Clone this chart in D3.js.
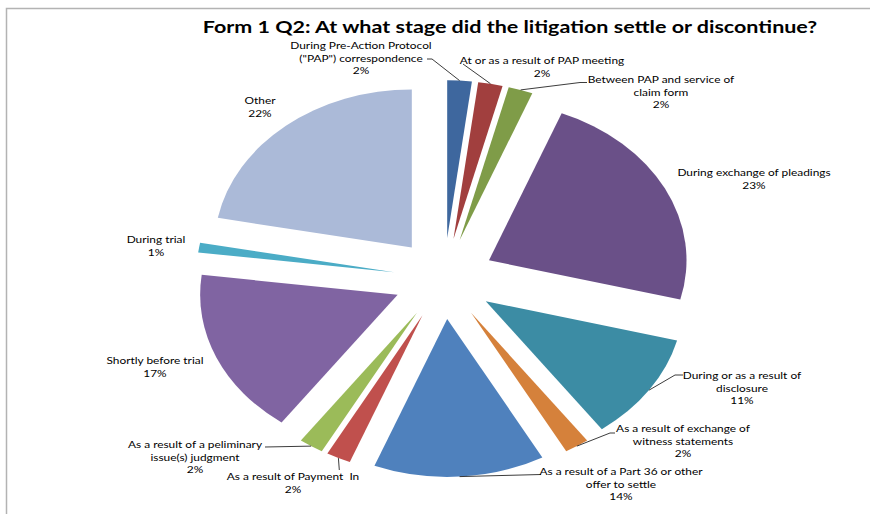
<!DOCTYPE html>
<html>
<head>
<meta charset="utf-8">
<script src="https://cdn.jsdelivr.net/npm/d3@7"></script>
<style>
  body { margin: 0; background: #fff; }
  text { font-family: Lato, "Open Sans", sans-serif; fill: #000; white-space: pre; }
</style>
</head>
<body>
<div id="chart"></div>
<script>
// data (clockwise from 12 o'clock)
var categories = [
  "During Pre-Action Protocol|(\"PAP\") correspondence",
  "At or as a result of PAP meeting",
  "Between PAP and service of|claim form",
  "During exchange of pleadings",
  "During or as a result of|disclosure",
  "As a result of exchange of|witness statements",
  "As a result of a Part 36 or other|offer to settle",
  "As a result of Payment  In",
  "As a result of a peliminary|issue(s) judgment",
  "Shortly before trial",
  "During trial",
  "Other"
];
var values = [2, 2, 2, 23, 11, 2, 14, 2, 2, 17, 1, 22];
var colors = ["#3e679e", "#a13f3e", "#7f9c48", "#6a5088", "#3c8ca4", "#d5813b",
              "#4f81bd", "#c0504d", "#9bbb59", "#8064a2", "#4bacc6", "#abbad8"];
var title = "Form 1 Q2: At what stage did the litigation settle or discontinue?";

// label layout (screen px, before the horizontal stretch is undone)
var labelAt = [[361, 46], [542, 61], [661, 80], [754, 173], [742, 376], [683, 429],
               [621, 472], [293, 477], [195, 445], [155, 361], [156, 240], [260, 101]];
// leader line points after the slice edge point (screen px), null = no leader
var leaders = [
  [[432, 59], [427, 59]],
  [[463, 64]],
  [[580, 82.5], [587, 82.5]],
  null,
  [[675, 375], [683, 375]],
  [[610, 433], [615, 433]],
  [[541, 474.5]],
  [[339.3, 470]],
  [[265, 447]],
  null, null, null
];

var width = 870, height = 514;
var SX = 1.25;                 // the original picture is stretched sideways
var cx = 444 / SX, cy = 278.6, radius = 158, explode = 40.4;
var lineH = 12.4;

var data = values.map(function(v, i) { return {name: categories[i], value: v, i: i}; });

var svg = d3.select("#chart").append("svg")
    .attr("width", width)
    .attr("height", height);

// chart frame
svg.append("path")
    .attr("d", "M6.5," + height + "V8.5H" + width)
    .attr("fill", "none")
    .attr("stroke", "#b3b3b3")
    .attr("stroke-width", 1.5);

var g = svg.append("g").attr("transform", "scale(" + SX + ",1)");

g.append("text")
    .attr("x", 510 / SX)
    .attr("y", 33.5)
    .attr("text-anchor", "middle")
    .style("font-size", "17.2px")
    .style("font-weight", "bold")
    .text(title);

var pie = d3.pie().sort(null).value(function(d) { return d.value; });
var arcs = pie(data);
var arc = d3.arc().innerRadius(0).outerRadius(radius);
function mid(d) { return (d.startAngle + d.endAngle) / 2; }

// exploded slices
g.selectAll("path.slice")
    .data(arcs)
    .enter()
    .append("path")
    .attr("class", "slice")
    .attr("transform", function(d) {
        var a = mid(d);
        return "translate(" + (cx + explode * Math.sin(a)) + "," + (cy - explode * Math.cos(a)) + ")";
    })
    .attr("d", arc)
    .style("fill", function(d) { return colors[d.data.i]; });

// leader lines from the outer edge of each slice
var line = d3.line();
arcs.forEach(function(d) {
    var pts = leaders[d.data.i];
    if (!pts) return;
    var a = mid(d), rr = radius + explode;
    var p = [[cx + rr * Math.sin(a), cy - rr * Math.cos(a)]];
    pts.forEach(function(q) { p.push([q[0] / SX, q[1]]); });
    g.append("path")
        .attr("d", line(p))
        .attr("fill", "none")
        .attr("stroke", "#262626")
        .attr("stroke-width", 0.8);
});

// data labels
arcs.forEach(function(d) {
    var lines = d.data.name.split("|").concat([d.data.value + "%"]);
    var pos = labelAt[d.data.i];
    var t = g.append("text")
        .attr("text-anchor", "middle")
        .style("font-size", "9.5px");
    lines.forEach(function(s, k) {
        t.append("tspan")
            .attr("x", pos[0] / SX)
            .attr("y", pos[1] + 3.4 + k * lineH)
            .text(s);
    });
});
</script>
</body>
</html>
